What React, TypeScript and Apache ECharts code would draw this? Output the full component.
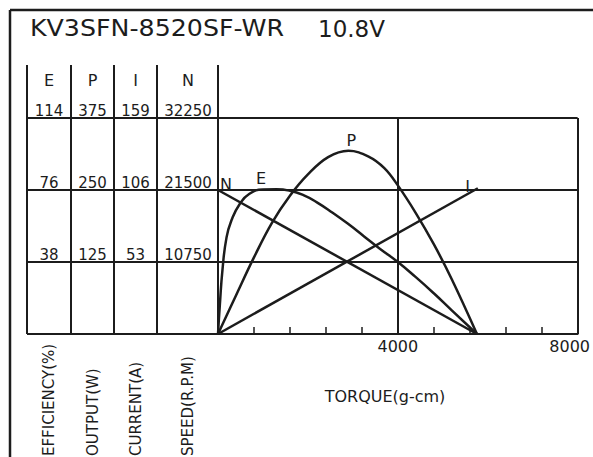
import React, { useEffect, useRef } from "react";
import * as echarts from "echarts";

// ---------- data ----------
const titleModel = "KV3SFN-8520SF-WR";
const titleVoltage = "10.8V";

const xTickLabels = [4000, 8000];
const effTicks = [38, 76, 114];
const outTicks = [125, 250, 375];
const curTicks = [53, 106, 159];
const spdTicks = [10750, 21500, 32250];

const columnHeads = ["E", "P", "I", "N"];
const columnTitles = ["EFFICIENCY(%)", "OUTPUT(W)", "CURRENT(A)", "SPEED(R.P.M)"];
const torqueTitle = "TORQUE(g-cm)";

// speed N (rpm) vs torque
const spdTorque = [0, 5760];
const spdVals = [21500, 0];
// current I (A) vs torque
const curTorque = [0, 5780];
const curVals = [0, 107.3];
// efficiency E (%) vs torque
const effTorque = [0, 40, 100, 190, 300, 480, 700, 1000, 1300, 1600, 1900, 2200, 2550, 2900, 3250, 3600, 4000, 4400, 4800, 5200, 5760];
const effVals = [0, 15, 34, 51, 60, 68.5, 74, 76.3, 76.4, 75.6, 73.3, 69.5, 64, 58, 51.5, 45, 38, 30, 21.5, 12.5, 0];
// output P (W) vs torque
const outTorque = [0, 400, 800, 1200, 1600, 2000, 2450, 2900, 3350, 3700, 4000, 4400, 4800, 5200, 5760];
const outVals = [0, 67, 133, 193, 240, 277, 307, 318, 308, 288, 258, 210, 156, 95, 0];

// ---------- layout / style ----------
const W = 593;
const H = 457;
const FONT = "DejaVu Sans";
const INK = "#1c1c1c";
const GRID = { left: 218, top: 118, width: 360, height: 216 };
const FRAME = { x: 10, y: 10 };
const TABLE_TOP = 65;
const TABLE_COLS = [27, 71, 114, 157, 218];
const COL_CENTERS = [49, 92.5, 135.5, 188];

const pairs = (xs: number[], ys: number[]) => xs.map((x, i) => [x, ys[i]]);

function buildOption() {
  const gridBottom = GRID.top + GRID.height;
  const rowH = GRID.height / 3;

  const yAxis = [effTicks, outTicks, curTicks, spdTicks].map((ticks, i) => ({
    type: "value",
    min: 0,
    max: ticks[ticks.length - 1],
    interval: ticks[0],
    position: "left",
    offset: GRID.left - COL_CENTERS[i],
    axisLine: { show: false },
    axisTick: { show: false },
    axisLabel: {
      showMinLabel: false,
      margin: 0,
      align: "center",
      verticalAlign: "bottom",
      lineHeight: 14,
      fontFamily: FONT,
      fontSize: 15,
      color: INK,
      formatter: (v: number) => String(v),
    },
    splitLine: { show: i === 0, lineStyle: { color: INK, width: 2 } },
  }));

  const lineStyle = { color: INK, width: 2.5 };
  const labelStyle = { fontFamily: FONT, fontSize: 16, color: INK };
  const mk = (coord: number[], text: string, offset: number[]) => ({
    symbol: "circle",
    symbolSize: 0,
    silent: true,
    label: { show: true, position: "inside", offset, formatter: text, ...labelStyle },
    data: [{ coord }],
  });

  const curve = (yIdx: number, data: number[][], smooth: number | boolean, markPoint: any) => ({
    type: "line",
    xAxisIndex: 0,
    yAxisIndex: yIdx,
    data,
    smooth,
    symbol: "none",
    showSymbol: false,
    lineStyle,
    markPoint,
    silent: true,
  });

  const graphic: any[] = [];
  const ln = (x1: number, y1: number, x2: number, y2: number, w = 2) =>
    graphic.push({ type: "line", shape: { x1, y1, x2, y2 }, style: { stroke: INK, lineWidth: w }, silent: true });

  // outer frame
  ln(FRAME.x, FRAME.y, W, FRAME.y, 2.5);
  ln(FRAME.x, FRAME.y, FRAME.x, H, 2.5);
  // table columns
  TABLE_COLS.forEach((x) => ln(x, TABLE_TOP, x, gridBottom));
  // table rows
  for (let k = 0; k <= 3; k++) {
    const y = GRID.top + k * rowH;
    ln(TABLE_COLS[0], y, GRID.left, y);
  }

  graphic.push({
    type: "text",
    x: 30,
    y: 28.5,
    scaleX: 1.1,
    style: { text: titleModel, fontFamily: FONT, fontSize: 23, fill: INK, verticalAlign: "middle", align: "left" },
  });
  graphic.push({
    type: "text",
    x: 318,
    y: 28.5,
    style: { text: titleVoltage, fontFamily: FONT, fontSize: 23, fill: INK, verticalAlign: "middle", align: "left" },
  });
  columnHeads.forEach((t, i) =>
    graphic.push({
      type: "text",
      x: COL_CENTERS[i],
      y: 80,
      style: { text: t, fontFamily: FONT, fontSize: 16, fill: INK, verticalAlign: "middle", align: "center" },
    })
  );
  columnTitles.forEach((t, i) =>
    graphic.push({
      type: "text",
      x: COL_CENTERS[i],
      y: 456,
      rotation: Math.PI / 2,
      style: { text: t, fontFamily: FONT, fontSize: 15, fill: INK, verticalAlign: "middle", align: "left" },
    })
  );
  graphic.push({
    type: "text",
    x: 385,
    y: 396,
    style: { text: torqueTitle, fontFamily: FONT, fontSize: 16, fill: INK, verticalAlign: "middle", align: "center" },
  });

  return {
    animation: false,
    backgroundColor: "#ffffff",
    grid: { ...GRID, containLabel: false },
    xAxis: [
      {
        type: "value",
        min: 0,
        max: 8000,
        interval: 800,
        axisLine: { show: true, lineStyle: { color: INK, width: 2 } },
        axisTick: { show: true, inside: true, length: 7, lineStyle: { color: INK, width: 1.5 } },
        axisLabel: {
          margin: 4,
          fontFamily: FONT,
          fontSize: 16,
          color: INK,
          formatter: (v: number) =>
            xTickLabels.includes(v) ? (v === xTickLabels[xTickLabels.length - 1] ? `{r|${v}}` : String(v)) : "",
          rich: { r: { padding: [0, 16, 0, 0], fontFamily: FONT, fontSize: 16, color: INK } },
        },
        splitLine: { show: false },
      },
      {
        type: "value",
        min: 0,
        max: 8000,
        interval: 4000,
        position: "bottom",
        axisLine: { show: false },
        axisTick: { show: false },
        axisLabel: { show: false },
        splitLine: { show: true, lineStyle: { color: INK, width: 2 } },
      },
    ],
    yAxis,
    series: [
      curve(3, pairs(spdTorque, spdVals), false, mk([0, 21500], "N", [8, -6])),
      curve(2, pairs(curTorque, curVals), false, mk([5550, 103], "I", [0, -8])),
      curve(0, pairs(effTorque, effVals), 0.5, mk([1111, 76.5], "E", [-7, -10.5])),
      curve(1, pairs(outTorque, outVals), 0.4, mk([2900, 318], "P", [3, -10])),
    ],
    graphic,
  };
}

export default function App() {
  const ref = useRef<HTMLDivElement>(null);
  useEffect(() => {
    if (!ref.current) return;
    const chart = echarts.init(ref.current, undefined, { renderer: "svg" });
    chart.setOption(buildOption() as any);
    return () => chart.dispose();
  }, []);
  return (
    <div
      ref={ref}
      style={{ position: "fixed", left: 0, top: 0, width: W, height: H, background: "#fff" }}
    />
  );
}
